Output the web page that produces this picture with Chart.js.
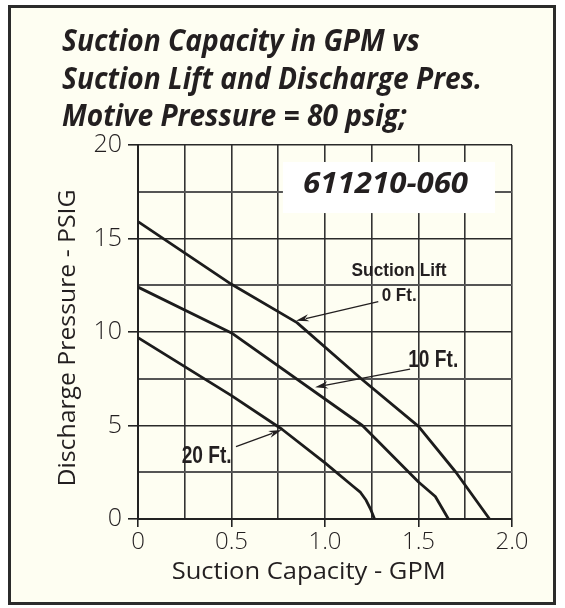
<!DOCTYPE html>
<html><head><meta charset="utf-8">
<script src="https://cdn.jsdelivr.net/npm/chart.js@4/dist/chart.umd.min.js"></script>
<style>html,body{margin:0;padding:0;background:#fff}canvas{display:block}</style>
</head><body>
<canvas id="c" width="565" height="608"></canvas>
<script>
// ---------- data ----------
const titleLines = ['Suction Capacity in GPM vs', 'Suction Lift and Discharge Pres.', 'Motive Pressure = 80 psig;'];
const modelLabel = '611210-060';
const xAxisTitle = 'Suction Capacity - GPM';
const yAxisTitle = 'Discharge Pressure - PSIG';
const seriesNames = ['0 Ft.', '10 Ft.', '20 Ft.'];

const lift0X  = [0, 0.5, 0.85, 1.2, 1.5, 1.7, 1.88];
const lift0Y  = [15.9, 12.55, 10.5, 7.45, 4.95, 2.5, 0];
const lift10X = [0, 0.5, 1.2, 1.5, 1.59, 1.66];
const lift10Y = [12.4, 9.95, 5.0, 1.98, 1.2, 0];
const lift20X = [0, 0.5, 0.77, 1.0, 1.15, 1.19, 1.22, 1.245, 1.265];
const lift20Y = [9.7, 6.6, 4.8, 3.0, 1.75, 1.42, 1.0, 0.5, 0];

const xTickValues = [0, 0.5, 1, 1.5, 2];
const xTickText   = ['0', '0.5', '1.0', '1.5', '2.0'];
const yTickValues = [0, 5, 10, 15, 20];
const yTickText   = ['0', '5', '10', '15', '20'];

// ---------- styling / annotation placement (data units) ----------
const CREAM = '#fefef2';
const INK = '#231f20';
const annotations = {
  box: {x1: 0.775, x2: 1.909, y1: 19.09, y2: 16.36, textX: 1.324, textY: 17.43},
  texts: [
    {text: 'Suction Lift', x: 1.396, y: 13.26, size: 19, w: 95, align: 'center'},
    {text: seriesNames[0], x: 1.490, y: 11.92, size: 19, w: 35, align: 'right'},
    {text: seriesNames[1], x: 1.445, y: 8.47, size: 23, w: 50, align: 'left'},
    {text: seriesNames[2], x: 0.367, y: 3.37, size: 24, w: 50, align: 'center'}
  ],
  arrows: [
    {x1: 1.285, y1: 11.62, x2: 0.845, y2: 10.6},
    {x1: 1.455, y1: 8.02, x2: 0.947, y2: 7.04},
    {x1: 0.524, y1: 3.87, x2: 0.768, y2: 4.76}
  ]
};

function toPoints(xs, ys) { return xs.map((x, i) => ({x: x, y: ys[i]})); }
function findTick(vals, v) { return vals.findIndex(t => Math.abs(t - v) < 1e-6); }

function fitText(ctx, text, x, y, targetW, align) {
  const w = ctx.measureText(text).width;
  const s = targetW / w;
  ctx.save();
  ctx.translate(x, y);
  ctx.scale(s, 1);
  ctx.textAlign = align;
  ctx.fillText(text, 0, 0);
  ctx.restore();
}

const framePlugin = {
  id: 'frame',
  beforeDraw(chart) {
    const ctx = chart.ctx;
    ctx.save();
    ctx.fillStyle = '#fff';
    ctx.fillRect(0, 0, chart.width, chart.height);
    ctx.fillStyle = CREAM;
    ctx.fillRect(8, 5, 548, 600);
    ctx.restore();
  },
  afterDraw(chart) {
    const ctx = chart.ctx;
    const xs = chart.scales.x, ys = chart.scales.y;
    const px = v => xs.getPixelForValue(v), py = v => ys.getPixelForValue(v);
    ctx.save();
    // border
    ctx.strokeStyle = '#2b2b2b';
    ctx.lineWidth = 3;
    ctx.strokeRect(9.5, 6.5, 545, 597);
    // title
    ctx.fillStyle = INK;
    ctx.textBaseline = 'alphabetic';
    ctx.font = 'italic bold 31px "Open Sans"';
    const s = 420 / ctx.measureText(titleLines[1]).width;
    titleLines.forEach((t, i) => {
      const w = ctx.measureText(t).width * s;
      fitText(ctx, t, 62, 51 + i * 37.5, w, 'left');
    });
    // axis titles
    ctx.font = '24px "Open Sans"';
    ctx.textBaseline = 'middle';
    fitText(ctx, xAxisTitle, 308.7, 572, 274, 'center');
    ctx.save();
    ctx.translate(68, 338);
    ctx.rotate(-Math.PI / 2);
    fitText(ctx, yAxisTitle, 0, 0, 297, 'center');
    ctx.restore();
    // model box
    const b = annotations.box;
    ctx.fillStyle = '#ffffff';
    ctx.fillRect(px(b.x1), py(b.y1), px(b.x2) - px(b.x1), py(b.y2) - py(b.y1));
    ctx.fillStyle = INK;
    ctx.textBaseline = 'alphabetic';
    ctx.font = 'italic bold 29px "Open Sans"';
    fitText(ctx, modelLabel, px(b.textX), py(b.textY), 165, 'center');
    // labels
    ctx.textBaseline = 'middle';
    annotations.texts.forEach(t => {
      ctx.font = 'bold ' + t.size + 'px "Liberation Sans", Arial, sans-serif';
      fitText(ctx, t.text, px(t.x), py(t.y), t.w, t.align);
    });
    // arrows
    ctx.strokeStyle = INK;
    ctx.fillStyle = INK;
    ctx.lineWidth = 1.3;
    annotations.arrows.forEach(a => {
      const x1 = px(a.x1), y1 = py(a.y1), x2 = px(a.x2), y2 = py(a.y2);
      const ang = Math.atan2(y2 - y1, x2 - x1);
      const L = 13, Wd = 3.6;
      const bx = x2 - L * Math.cos(ang), by = y2 - L * Math.sin(ang);
      ctx.beginPath();
      ctx.moveTo(x1, y1);
      ctx.lineTo(bx + 3 * Math.cos(ang), by + 3 * Math.sin(ang));
      ctx.stroke();
      ctx.beginPath();
      ctx.moveTo(x2, y2);
      ctx.lineTo(bx - Wd * Math.sin(ang), by + Wd * Math.cos(ang));
      ctx.lineTo(bx + 4 * Math.cos(ang), by + 4 * Math.sin(ang));
      ctx.lineTo(bx + Wd * Math.sin(ang), by - Wd * Math.cos(ang));
      ctx.closePath();
      ctx.fill();
    });
    ctx.restore();
  }
};

function lineDs(label, xs, ys) {
  return {label: label, data: toPoints(xs, ys), borderColor: '#1c1c1c', borderWidth: 2.8,
          pointRadius: 0, tension: 0, fill: false, borderJoinStyle: 'round'};
}

function build() {
  new Chart(document.getElementById('c'), {
    type: 'line',
    data: {datasets: [
      lineDs(seriesNames[0], lift0X, lift0Y),
      lineDs(seriesNames[1], lift10X, lift10Y),
      lineDs(seriesNames[2], lift20X, lift20Y)
    ]},
    options: {
      responsive: false, animation: false, devicePixelRatio: 1,
      layout: {padding: {top: 145, right: 53, bottom: 0, left: 0}},
      plugins: {legend: {display: false}, tooltip: {enabled: false}, title: {display: false}},
      scales: {
        x: {
          type: 'linear', min: 0, max: 2,
          ticks: {stepSize: 0.25, autoSkip: false, maxRotation: 0, minRotation: 0, color: INK, padding: 1,
                  font: {family: 'Open Sans', size: 24, weight: '300'},
                  callback: v => { const i = findTick(xTickValues, v); return i >= 0 ? xTickText[i] : ''; }},
          grid: {color: '#333', lineWidth: 1.6, tickLength: 8,
                 tickColor: c => findTick(xTickValues, c.tick.value) >= 0 ? '#222' : 'rgba(0,0,0,0)'},
          border: {display: true, color: '#222', width: 2},
          afterFit: s => { s.height = 89; }
        },
        y: {
          type: 'linear', min: 0, max: 20,
          ticks: {stepSize: 2.5, autoSkip: false, color: INK, padding: 6,
                  font: {family: 'Open Sans', size: 25, weight: '300'},
                  callback: v => { const i = findTick(yTickValues, v); return i >= 0 ? yTickText[i] : ''; }},
          grid: {color: c => findTick(yTickValues, c.tick.value) >= 0 ? '#2a2a2a' : '#555', lineWidth: c => findTick(yTickValues, c.tick.value) >= 0 ? 1.6 : 2, tickLength: 10,
                 tickColor: c => findTick(yTickValues, c.tick.value) >= 0 ? '#222' : 'rgba(0,0,0,0)'},
          border: {display: true, color: '#222', width: 2},
          afterFit: s => { s.width = 138; }
        }
      }
    },
    plugins: [framePlugin]
  });
}

const fontLoads = ['italic bold 31px "Open Sans"', '24px "Open Sans"', '300 24px "Open Sans"', 'bold 20px "Liberation Sans"']
  .map(f => document.fonts.load(f));
Promise.all(fontLoads).then(build, build);
</script>
</body></html>
